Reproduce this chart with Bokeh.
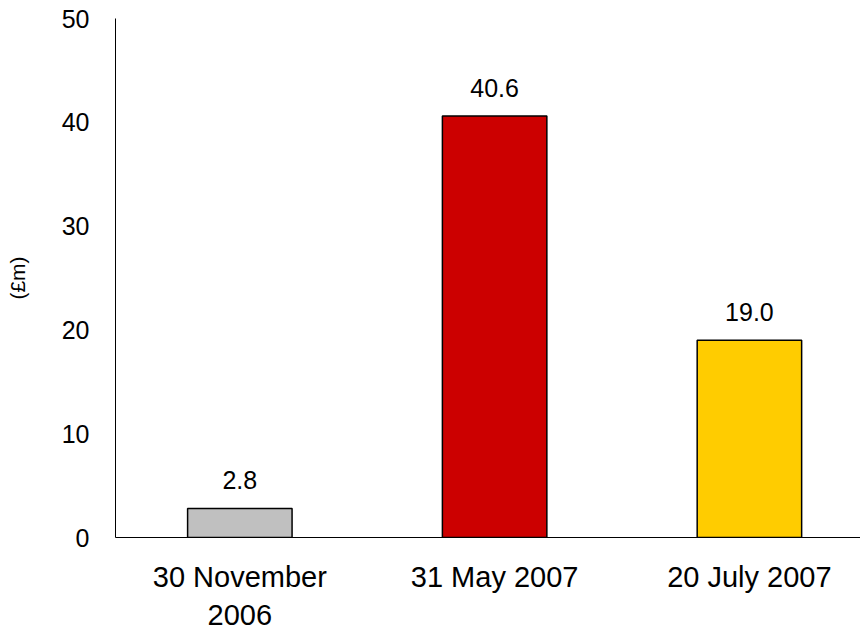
from bokeh.plotting import figure
from bokeh.models import ColumnDataSource, FixedTicker, Range1d
from bokeh.embed import file_html
from bokeh.resources import INLINE
from bokeh.core.properties import value

categories = ["30 November\n2006", "31 May 2007", "20 July 2007"]
values = [2.8, 40.6, 19.0]
labels = ["2.8", "40.6", "19.0"]
colors = ["#C0C0C0", "#CC0000", "#FFCC00"]
y_ticks = [0, 10, 20, 30, 40, 50]

xs = [i + 0.5 for i in range(len(categories))]
src = ColumnDataSource(dict(x=xs, top=values, label=labels, color=colors))

p = figure(frame_width=745, frame_height=519, output_backend="svg", toolbar_location=None,
           x_range=Range1d(0.012, 2.936), y_range=Range1d(0, 50),
           min_border_left=115, min_border_right=0, min_border_top=18, min_border_bottom=80)
p.outline_line_color = None
p.grid.visible = False

p.vbar(x="x", top="top", width=0.41, bottom=0, source=src, fill_color="color",
       line_color="black", line_width=1.5)
p.text(x="x", y="top", text="label", source=src, text_align="center",
       text_baseline="bottom", y_offset=-19, text_font=value("Liberation Sans"),
       text_font_size="25px", text_color="black")

p.xaxis.ticker = FixedTicker(ticks=xs)
p.xaxis.major_label_overrides = {x: c for x, c in zip(xs, categories)}
p.xaxis.major_label_text_font = "Liberation Sans"
p.xaxis.major_label_text_font_size = "29px"
p.xaxis.major_label_text_color = "black"
p.xaxis.major_label_standoff = 17
p.xaxis.major_tick_line_color = None
p.xaxis.minor_tick_line_color = None
p.xaxis.axis_line_color = "black"

p.yaxis.ticker = FixedTicker(ticks=y_ticks)
p.yaxis.major_label_text_font = "Liberation Sans"
p.yaxis.major_label_text_font_size = "25px"
p.yaxis.major_label_text_color = "black"
p.yaxis.major_label_standoff = 20
p.yaxis.major_tick_line_color = None
p.yaxis.minor_tick_line_color = None
p.yaxis.axis_line_color = "black"
p.yaxis.axis_label = "(£m)"
p.yaxis.axis_label_text_font = "Liberation Sans"
p.yaxis.axis_label_text_font_size = "21px"
p.yaxis.axis_label_text_font_style = "normal"
p.yaxis.axis_label_text_color = "black"
p.yaxis.axis_label_standoff = 30

open("out.html", "w").write(file_html(p, INLINE))
